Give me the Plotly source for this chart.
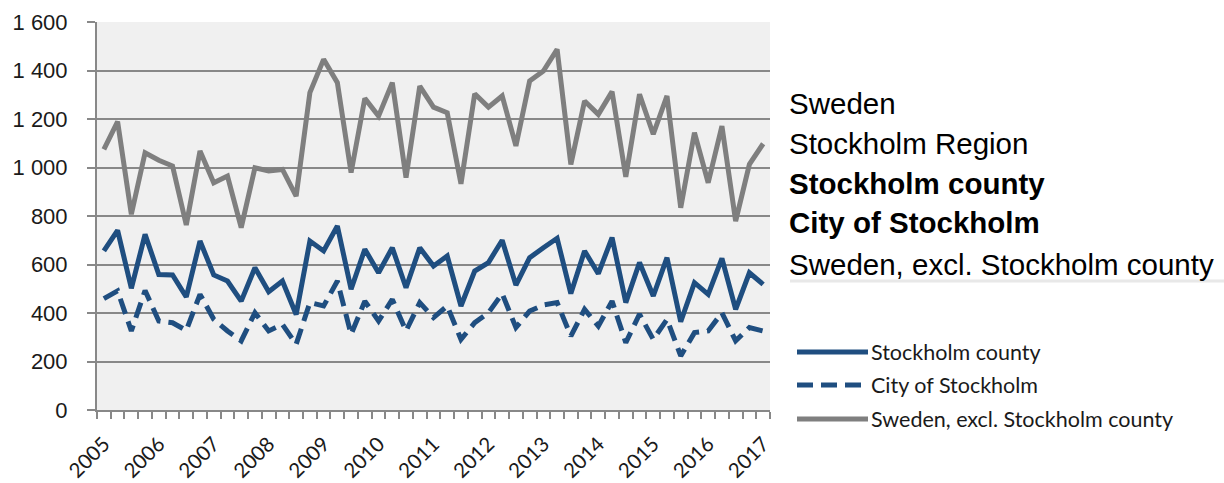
import plotly.graph_objects as go

# ---- data (quarterly, 2005 Q1 .. 2017 Q1) ----
years = [2005, 2006, 2007, 2008, 2009, 2010, 2011, 2012, 2013, 2014, 2015, 2016, 2017]
year_labels = [str(y) for y in years]
quarters = [f"{y} Q{q}" for y in years for q in (1, 2, 3, 4)][:49]

stockholm_county = [656, 741, 502, 724, 559, 557, 466, 697, 557, 532, 449, 587, 488, 532, 394, 697,
                    656, 759, 498, 663, 566, 669, 504, 669, 594, 635, 429, 573, 608, 700, 515, 628,
                    669, 708, 480, 656, 562, 711, 443, 608, 470, 628, 364, 525, 477, 625, 415, 566, 518]
city_of_stockholm = [459, 491, 326, 493, 367, 360, 328, 477, 374, 326, 285, 401, 326, 353, 271, 443,
                     429, 532, 312, 449, 367, 456, 326, 443, 381, 429, 291, 360, 401, 480, 340, 408,
                     433, 443, 305, 415, 346, 449, 278, 395, 291, 374, 223, 319, 326, 401, 285, 340, 326]
sweden_excl = [1075, 1189, 807, 1061, 1030, 1006, 763, 1068, 937, 965, 752, 999, 986, 992, 882, 1309,
               1446, 1350, 979, 1285, 1212, 1350, 958, 1336, 1249, 1226, 933, 1304, 1249, 1295, 1089, 1357,
               1398, 1487, 1013, 1274, 1219, 1313, 961, 1302, 1137, 1295, 834, 1144, 937, 1171, 779, 1013, 1098]

series_names = ["Stockholm county", "City of Stockholm", "Sweden, excl. Stockholm county"]
side_labels = ["Sweden", "Stockholm Region", "Stockholm county", "City of Stockholm",
               "Sweden, excl. Stockholm county"]
side_bold = [False, False, True, True, False]
y_ticks = [0, 200, 400, 600, 800, 1000, 1200, 1400, 1600]

BLUE = "#1f4e80"
GRAY = "#7f7f7f"
GRID = "#888888"

L, R, T, B = 97, 454, 22, 73
W, H = 1224, 483

xs = list(range(len(quarters)))
fig = go.Figure()
styles = [dict(color=BLUE, width=5),
          dict(color=BLUE, width=5, dash="16px,8px"),
          dict(color=GRAY, width=5)]
for name, vals, st in zip(series_names, [stockholm_county, city_of_stockholm, sweden_excl], styles):
    fig.add_trace(go.Scatter(x=xs, y=vals, mode="lines", name=name, line=st,
                             text=quarters, hovertemplate="%{text}: %{y}<extra>" + name + "</extra>"))

fig.update_layout(
    width=W, height=H,
    margin=dict(l=L, r=R, t=T, b=B, autoexpand=False),
    paper_bgcolor="white", plot_bgcolor="#f0f0f0",
    showlegend=False,
    separators=". ",
)
fig.update_xaxes(
    automargin=False,
    range=[-0.5, len(quarters) - 0.5],
    tickvals=[4 * i for i in range(len(years))], ticktext=year_labels,
    tickangle=-45, ticks="", showgrid=False, zeroline=False,
    showline=True, linecolor=GRID, linewidth=2,
    tickfont=dict(family="Lato, Liberation Sans", size=20.5, color="#1a1a1a"),
    ticklabelstandoff=12,
    minor=dict(ticks="outside", tick0=-0.5, dtick=1, ticklen=7, tickwidth=2, tickcolor=GRID, showgrid=False),
)
fig.update_yaxes(
    automargin=False,
    range=[0, 1600], tickvals=y_ticks, tickformat=",d",
    showgrid=True, gridcolor=GRID, gridwidth=2, zeroline=False,
    showline=True, linecolor=GRID, linewidth=2,
    ticks="outside", ticklen=8, tickwidth=2, tickcolor=GRID,
    ticklabelstandoff=15,
    tickfont=dict(family="Liberation Sans, Arial", size=22, color="#1a1a1a"),
)

def px2x(px):
    return (px - L) / (W - L - R)

def py2y(py):
    return (H - B - py) / (H - B - T)

# side text list
side_y = [103, 143, 184, 223, 264]
for lbl, b, yy in zip(side_labels, side_bold, side_y):
    fig.add_annotation(xref="paper", yref="paper", x=px2x(787), y=py2y(yy), xanchor="left", yanchor="middle",
                       text=f"<b>{lbl}</b>" if b else lbl, showarrow=False,
                       font=dict(family="Liberation Sans, Arial", size=29.5, color="black"))
fig.add_shape(type="line", xref="paper", yref="paper", x0=px2x(790), x1=px2x(1224), y0=py2y(281), y1=py2y(281),
              line=dict(color="#e8e8e8", width=3))

# custom legend
leg_y = [352, 385, 419]
for name, st, yy in zip(series_names, styles, leg_y):
    fig.add_shape(type="line", xref="paper", yref="paper", x0=px2x(797), x1=px2x(868), y0=py2y(yy), y1=py2y(yy),
                  line=dict(color=st["color"], width=5, dash=st.get("dash", "solid")))
    fig.add_annotation(xref="paper", yref="paper", x=px2x(869), y=py2y(yy), xanchor="left", yanchor="middle",
                       text=name, showarrow=False,
                       font=dict(family="Lato, Liberation Sans", size=21.5, color="#1a1a1a"))

fig.write_html("out.html", config={"displayModeBar": False},
               post_script="document.body.style.margin='0';document.body.style.overflow='hidden';")
